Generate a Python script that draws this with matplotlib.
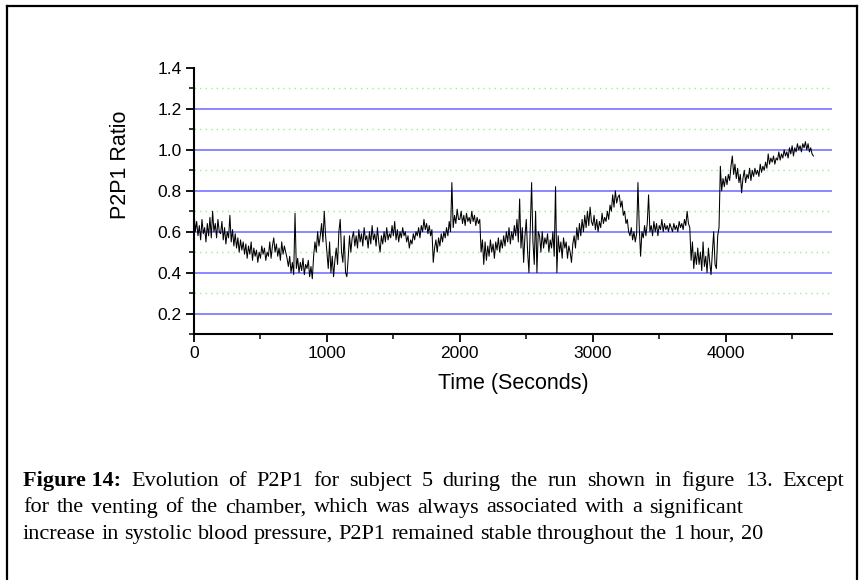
import numpy as np
import matplotlib.pyplot as plt
from matplotlib.lines import Line2D

step = 10
ratio = [
    0.70, 0.60, 0.65, 0.58, 0.63, 0.56, 0.66, 0.59, 0.62, 0.55, 0.64, 0.58, 0.67, 0.57, 0.70, 0.60, 0.64, 0.57, 0.66, 0.60,
    0.59, 0.65, 0.56, 0.62, 0.54, 0.60, 0.57, 0.68, 0.55, 0.61, 0.53, 0.59, 0.52, 0.57, 0.50, 0.56, 0.51, 0.55, 0.49, 0.54,
    0.47, 0.53, 0.49, 0.55, 0.46, 0.52, 0.48, 0.51, 0.45, 0.50, 0.47, 0.53, 0.49, 0.52, 0.46, 0.50, 0.48, 0.55, 0.47, 0.53,
    0.57, 0.50, 0.54, 0.48, 0.52, 0.46, 0.55, 0.49, 0.53, 0.50, 0.47, 0.43, 0.48, 0.40, 0.45, 0.39, 0.69, 0.42, 0.47, 0.40,
    0.45, 0.41, 0.47, 0.39, 0.44, 0.42, 0.46, 0.38, 0.43, 0.37, 0.48, 0.55, 0.50, 0.60, 0.53, 0.58, 0.64, 0.55, 0.70, 0.58,
    0.50, 0.42, 0.55, 0.40, 0.48, 0.38, 0.46, 0.52, 0.44, 0.60, 0.66, 0.50, 0.45, 0.58, 0.40, 0.38, 0.47, 0.58, 0.50, 0.57,
    0.60, 0.53, 0.58, 0.52, 0.61, 0.55, 0.59, 0.53, 0.62, 0.56, 0.58, 0.52, 0.60, 0.54, 0.63, 0.56, 0.59, 0.53, 0.62, 0.55,
    0.50, 0.58, 0.54, 0.60, 0.55, 0.62, 0.56, 0.59, 0.57, 0.63, 0.58, 0.65, 0.56, 0.61, 0.55, 0.60, 0.57, 0.62, 0.58, 0.60,
    0.55, 0.58, 0.52, 0.56, 0.54, 0.59, 0.56, 0.60, 0.58, 0.62, 0.57, 0.63, 0.60, 0.66, 0.61, 0.64, 0.59, 0.63, 0.58, 0.61,
    0.45, 0.52, 0.56, 0.50, 0.57, 0.53, 0.59, 0.55, 0.60, 0.57, 0.62, 0.58, 0.65, 0.60, 0.84, 0.62, 0.68, 0.64, 0.71, 0.66,
    0.66, 0.70, 0.64, 0.68, 0.63, 0.69, 0.65, 0.67, 0.64, 0.70, 0.65, 0.68, 0.63, 0.67, 0.64, 0.66, 0.50, 0.56, 0.44, 0.55,
    0.46, 0.53, 0.48, 0.56, 0.50, 0.54, 0.47, 0.55, 0.51, 0.57, 0.50, 0.56, 0.52, 0.58, 0.53, 0.60, 0.55, 0.62, 0.54, 0.60,
    0.56, 0.63, 0.58, 0.66, 0.55, 0.76, 0.52, 0.62, 0.45, 0.58, 0.66, 0.50, 0.40, 0.62, 0.84, 0.55, 0.44, 0.70, 0.40, 0.60,
    0.58, 0.50, 0.60, 0.52, 0.57, 0.54, 0.59, 0.50, 0.56, 0.52, 0.60, 0.48, 0.82, 0.40, 0.58, 0.50, 0.55, 0.47, 0.57, 0.52,
    0.55, 0.47, 0.53, 0.50, 0.45, 0.54, 0.58, 0.52, 0.62, 0.56, 0.64, 0.58, 0.66, 0.60, 0.68, 0.62, 0.70, 0.63, 0.72, 0.65,
    0.63, 0.68, 0.61, 0.66, 0.60, 0.65, 0.62, 0.69, 0.64, 0.67, 0.65, 0.70, 0.66, 0.73, 0.70, 0.78, 0.72, 0.80, 0.74, 0.77,
    0.78, 0.72, 0.75, 0.68, 0.70, 0.64, 0.66, 0.60, 0.58, 0.62, 0.56, 0.60, 0.55, 0.59, 0.84, 0.62, 0.48, 0.60, 0.57, 0.63,
    0.58, 0.64, 0.78, 0.60, 0.63, 0.58, 0.65, 0.60, 0.64, 0.58, 0.63, 0.61, 0.66, 0.60, 0.64, 0.61, 0.63, 0.60, 0.64, 0.62,
    0.60, 0.64, 0.61, 0.63, 0.60, 0.65, 0.62, 0.64, 0.61, 0.66, 0.63, 0.70, 0.64, 0.62, 0.46, 0.55, 0.42, 0.50, 0.44, 0.52,
    0.44, 0.50, 0.41, 0.55, 0.43, 0.48, 0.40, 0.52, 0.45, 0.39, 0.50, 0.60, 0.44, 0.42, 0.58, 0.62, 0.92, 0.80, 0.86, 0.82,
    0.87, 0.83, 0.88, 0.85, 0.92, 0.97, 0.88, 0.93, 0.86, 0.91, 0.84, 0.88, 0.79, 0.86, 0.90, 0.84, 0.88, 0.86, 0.91, 0.85,
    0.90, 0.87, 0.91, 0.88, 0.90, 0.87, 0.93, 0.89, 0.92, 0.90, 0.94, 0.91, 0.98, 0.93, 0.96, 0.94, 0.97, 0.93, 0.96, 0.95,
    0.99, 0.95, 0.98, 0.96, 1.00, 0.97, 0.99, 0.96, 1.01, 0.98, 1.02, 0.97, 1.01, 0.99, 1.03, 1.00, 1.02, 0.99, 1.03, 1.01,
    1.04, 1.00, 1.03, 0.99, 1.01, 0.98, 0.97,
]
time_s = np.arange(len(ratio)) * step

major_levels = [0.2, 0.4, 0.6, 0.8, 1.0, 1.2]
minor_levels = [0.3, 0.5, 0.7, 0.9, 1.1, 1.3]

caption_bold = "Figure 14:"
caption_lines = [
    "Evolution of P2P1 for subject 5 during the run shown in figure 13. Except",
    "for the venting of the chamber, which was always associated with a significant",
    "increase in systolic blood pressure, P2P1 remained stable throughout the 1 hour, 20",
]
line_ends = [844, 743, 763]   # right end of each caption line in the reference

W, H = 861, 580
fig = plt.figure(figsize=(W / 100, H / 100), dpi=100)
ax = fig.add_axes([194 / W, 1 - 334 / H, (832 - 194) / W, (334 - 68) / H])

ax.hlines(major_levels, 0, 4800, colors='#7f7fff', lw=1.3, zorder=1)
ax.hlines(minor_levels, 0, 4800, colors='#8cf58c', lw=1.0,
          linestyles=(0, (1, 3)), zorder=1)
ax.plot(time_s, ratio, color='black', lw=0.75, zorder=2)

ax.set_xlim(0, 4800)
ax.set_ylim(0.1, 1.4)
ax.set_xticks([0, 1000, 2000, 3000, 4000])
ax.set_xticks(np.arange(500, 4800, 1000), minor=True)
ax.set_yticks([0.2, 0.4, 0.6, 0.8, 1.0, 1.2, 1.4])
ax.set_yticks([0.1, 0.3, 0.5, 0.7, 0.9, 1.1, 1.3], minor=True)
ax.set_yticklabels(['0.2', '0.4', '0.6', '0.8', '1.0', '1.2', '1.4'])

for s in ['top', 'right']:
    ax.spines[s].set_visible(False)
for s in ['left', 'bottom']:
    ax.spines[s].set_linewidth(1.5)
ax.tick_params(which='major', length=6, width=1.3, labelsize=12.5, pad=3)
ax.tick_params(which='minor', length=3.5, width=1.1)
for lab in ax.get_xticklabels() + ax.get_yticklabels():
    lab.set_family('Liberation Sans')

ax.set_xlabel('Time (Seconds)', fontsize=15.5, family='Liberation Sans')
ax.xaxis.set_label_coords(0.5, -(383 - 334) / 266)
ax.xaxis.label.set_va('center')
ax.set_ylabel('P2P1 Ratio', fontsize=15.5, family='Liberation Sans')
ax.yaxis.set_label_coords((120 - 194) / 638, (334 - 165) / 266)
ax.yaxis.label.set_va('center')

# page frame
fig.add_artist(Line2D([7 / W, 7 / W], [0, 1 - 6 / H], color='black', lw=1.6))
fig.add_artist(Line2D([7 / W, 857 / W], [1 - 6 / H, 1 - 6 / H], color='black', lw=1.6))
fig.add_artist(Line2D([857 / W, 857 / W], [0, 1 - 6 / H], color='black', lw=1.6))

# caption, each line spread between the left margin and its end
cfs = 16.0
r = fig.canvas.get_renderer()
for i, (line, x_end) in enumerate(zip(caption_lines, line_ends)):
    yy = 1 - (486 + 26.5 * i) / H
    words = [(w, 'normal') for w in line.split()]
    if i == 0:
        words = [(caption_bold, 'bold')] + words
    items = [fig.text(0, yy, w, fontsize=cfs, family='Liberation Serif',
                      weight=wt, va='baseline') for w, wt in words]
    widths = [t.get_window_extent(renderer=r).width for t in items]
    gap = (x_end - 23 - sum(widths)) / (len(items) - 1)
    xpos = 23
    for t, wd in zip(items, widths):
        t.set_x(xpos / W)
        xpos += wd + gap

fig.savefig('out.png', dpi=100)
